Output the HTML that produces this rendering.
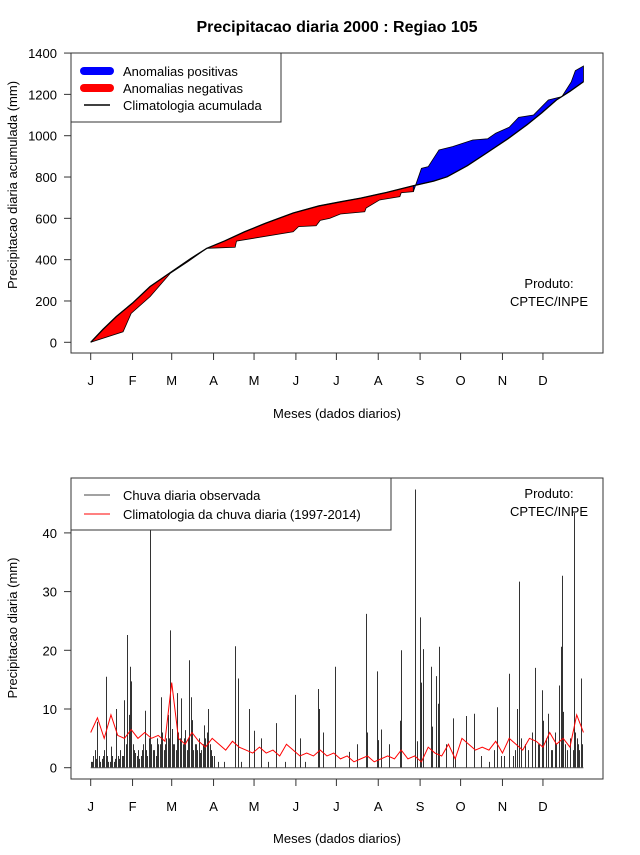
<!DOCTYPE html>
<html><head><meta charset="utf-8"><style>
body{margin:0;background:#fff}
svg text{font-family:"Liberation Sans",sans-serif;fill:#000}
</style></head><body>
<svg id="c" width="640" height="850" viewBox="0 0 640 850" xmlns="http://www.w3.org/2000/svg">
<text x="337" y="32" font-size="16" font-weight="bold" text-anchor="middle">Precipitacao diaria 2000 : Regiao 105</text>
<g id="topPanel"></g>
<g id="botPanel"></g>
</svg>
<script>
const NS="http://www.w3.org/2000/svg";
const months=["J","F","M","A","M","J","J","A","S","O","N","D"];
const monthStartDays=[1,32,61,92,122,153,183,214,245,275,306,336];
const topTicks=[0,200,400,600,800,1000,1200,1400];
const botTicks=[0,10,20,30,40];
// cumulative climatology
const climDays=[1,10,20,32,45,61,75,87,100,115,130,151,170,186,201,220,240,255,265,280,294,310,324,335,346,356,366];
const climVals=[0,62,125,190,270,342,405,455,490,535,575,626,660,680,698,725,758,780,801,855,915,985,1052,1110,1173,1215,1261];
// observed cumulative
const obsDays=[1,25,31,45,60,73,87,108,109,151,155,168,171,178,186,204,205,215,230,231,240,246,251,259,269,284,295,301,311,318,329,340,350,357,360,366];
const obsVals=[0,51,140,221,334,390,455,460,490,535,560,564,590,600,621,632,650,689,705,724,729,842,850,931,947,979,985,1012,1041,1089,1100,1173,1189,1261,1315,1337];
const crossDay=240;
// daily rain climatology every 5 days
const climRainDays=[1,6,11,16,21,26,31,36,41,46,51,56,61,66,71,76,81,86,91,96,101,106,111,116,121,126,131,136,141,146,151,156,161,166,171,176,181,186,191,196,201,206,211,216,221,226,231,236,241,246,251,256,261,266,271,276,281,286,291,296,301,306,311,316,321,326,331,336,341,346,351,356,361,366];
const climRainVals=[6,8.5,5,9,5.5,5,6.5,5,6,5,5.5,4.5,14.5,5,4,6,4.5,3.5,5,4,3,4.5,3.5,3,2.5,3.5,2.5,3,2,4,3,2,2.5,2,3,2,2.5,1.5,2,1,1.5,2,1,1.5,2,1.5,3,1.5,2,1,3.5,2.5,2,4,1.5,5,4,3,3.5,3,4.5,2.5,5,4,3,5,4.5,3.5,6,4,5,3.5,9,6];
// observed daily rain
const rainDays=[1,3,5,6,8,10,12,14,16,18,20,22,24,26,27,28,29,30,31,33,35,37,39,41,43,45,47,49,51,53,55,57,58,60,61,63,65,66,68,70,71,72,74,75,76,78,80,82,84,85,86,88,90,92,95,100,108,110,112,118,122,127,132,138,145,152,156,160,169,170,173,182,192,198,205,206,213,214,216,222,230,231,241,243,245,246,247,253,254,257,258,259,264,269,271,279,285,290,296,302,307,311,314,317,318,323,330,332,335,336,340,343,346,348,349,350,351,354,359,360,363,364,365,
2,4,7,9,11,13,15,17,19,21,23,25,32,34,36,38,40,42,44,46,48,50,52,54,56,59,62,64,67,69,73,77,79,81,83,87,89,91,300,305,315,320,325,328,333,338,342,345,352,356,358,361,362];
const rainVals=[1,2,1.5,7.8,1,2,15.5,1,3.6,1,10,1.5,2,11.5,4,22.6,9,17.2,14.7,3,2,1.5,3,9.7,2,49,3,2,4,12,3,5,9,23.4,6.6,4,12.7,6,11.8,5,6.4,3,18.3,12,8.1,4,3,2.5,4,7.2,5,10,3,2,1,1,20.7,15.2,1,10,6.3,5,1,7.6,1,12.4,5,1,13.4,10,6,17.2,2.7,4,26.2,6,16.4,4.7,6.5,4,8,20,47.4,4.5,25.6,14.5,20.2,17.2,7,15.6,10.9,20.6,4,8.4,1.7,8.8,9.2,2,1,10.3,2,16,2,10,31.7,4,17,4,13.2,8,9.2,3,4,14,20.6,32.7,9.5,3,43.4,6,3,15.2,4,
1,3,2,1.5,3,2,1,2,1.5,2,3,2,4,2.5,3,2,4,3,5,4,3,5,4,6,4,5,4,3,5,4,5,3,4,5,3,6,4,2,3,2,3,5,3,6,4,5,3,6,4,5,3,5,4];

function xDay(d){return 90.7+(d-1)*1.35;}
function yTop(v){return 342.3-v*0.2066;}
function yBot(v){return 767.7-v*5.87;}
function mk(tag,attrs,parent,text){const e=document.createElementNS(NS,tag);for(const k in attrs)e.setAttribute(k,attrs[k]);if(text!==undefined)e.textContent=text;parent.appendChild(e);return e;}

function frame(g,x0,y0,x1,y1,ticks,yf,ylabel,ylabelY,xlabY){
  const r=mk('rect',{x:x0,y:y0,width:x1-x0,height:y1-y0,fill:'none',stroke:'#333','stroke-width':1},g);
  
  
  ticks.forEach(t=>{const y=yf(t);
    const l=mk('line',{x1:x0-7,x2:x0,y1:y,y2:y,stroke:'#333'},g);
    
    
    const tx=mk('text',{x:x0-14,y:y+5,'font-size':13,'text-anchor':'end'},g,String(t));
    
    
  });
  monthStartDays.forEach((d,i)=>{const x=xDay(d);
    const l=mk('line',{x1:x,x2:x,y1:y1,y2:y1+7,stroke:'#333'},g);
    
    
    const tx=mk('text',{x:x,y:y1+32,'font-size':13,'text-anchor':'middle'},g,months[i]);
    
    
  });
  const yl=mk('text',{x:17,y:ylabelY,'font-size':13,'text-anchor':'middle',transform:`rotate(-90 17 ${ylabelY})`},g,ylabel);
  
  
  const xl=mk('text',{x:337,y:xlabY,'font-size':13,'text-anchor':'middle'},g,'Meses (dados diarios)');
  
  
}

// TOP
const topG=document.getElementById('topPanel');
frame(topG,71,53,603,353,topTicks,yTop,'Precipitacao diaria acumulada (mm)',185,418);
function region(lo,hi,color,name){
  const o=[],c=[];
  obsDays.forEach((d,i)=>{if(d>=lo&&d<=hi)o.push(xDay(d)+','+yTop(obsVals[i]));});
  climDays.forEach((d,i)=>{if(d>=lo&&d<=hi)c.push(xDay(d)+','+yTop(climVals[i]));});
  const p=mk('polygon',{points:o.concat(c.reverse()).join(' '),fill:color,stroke:'#000','stroke-width':0.8},topG);
  
  
}
region(1,crossDay,'#ff0000','negative-anomaly-area');
region(crossDay,366,'#0000ff','positive-anomaly-area');
const cl=mk('polyline',{points:climDays.map((d,i)=>xDay(d)+','+yTop(climVals[i])).join(' '),fill:'none',stroke:'#000','stroke-width':1.3},topG);



// TOP legend
const lg=mk('g',{},topG);


mk('rect',{x:71,y:53,width:210,height:69,fill:'#fff',stroke:'#333'},lg);
[['#0000ff',8,'Anomalias positivas','legend-entry-positive'],['#ff0000',8,'Anomalias negativas','legend-entry-negative'],['#000',1.5,'Climatologia acumulada','legend-entry-climatology']].forEach((e,i)=>{
  const y=71+i*17;
  const gg=mk('g',{},lg);
  
  
  mk('line',{x1:84,x2:110,y1:y,y2:y,stroke:e[0],'stroke-width':e[1],'stroke-linecap':e[1]>2?'round':'butt'},gg);
  mk('text',{x:123,y:y+5,'font-size':13},gg,e[2]);
});
const p1=mk('text',{x:549,y:288,'font-size':13,'text-anchor':'middle'},topG,'Produto:');


const p2=mk('text',{x:549,y:306,'font-size':13,'text-anchor':'middle'},topG,'CPTEC/INPE');



// BOTTOM
const botG=document.getElementById('botPanel');
frame(botG,71,478,603,779,botTicks,yBot,'Precipitacao diaria (mm)',628,843);
const bars=mk('g',{},botG);


rainDays.forEach((d,i)=>{
  const x=Math.round(xDay(d))+0.5;
  const v=Math.min(rainVals[i],49);
  const b=mk('line',{x1:x,x2:x,y1:yBot(0),y2:yBot(v),stroke:'#333','stroke-width':1},bars);
  
  
});
const base=mk('line',{x1:xDay(1),x2:xDay(366),y1:yBot(0),y2:yBot(0),stroke:'#555','stroke-width':1},botG);


const rl=mk('polyline',{points:climRainDays.map((d,i)=>xDay(d)+','+yBot(climRainVals[i])).join(' '),fill:'none',stroke:'#ff0000','stroke-width':1},botG);


const lg2=mk('g',{},botG);


mk('rect',{x:71,y:478,width:320,height:52,fill:'#fff',stroke:'#333'},lg2);
[['#444','Chuva diaria observada','legend-entry-observed'],['#ff0000','Climatologia da chuva diaria (1997-2014)','legend-entry-climatology']].forEach((e,i)=>{
  const y=495+i*19;
  const gg=mk('g',{},lg2);
  
  
  mk('line',{x1:84,x2:110,y1:y,y2:y,stroke:e[0],'stroke-width':1},gg);
  mk('text',{x:123,y:y+5,'font-size':13},gg,e[1]);
});
const p3=mk('text',{x:549,y:498,'font-size':13,'text-anchor':'middle'},botG,'Produto:');


const p4=mk('text',{x:549,y:516,'font-size':13,'text-anchor':'middle'},botG,'CPTEC/INPE');


</script>
</body></html>
